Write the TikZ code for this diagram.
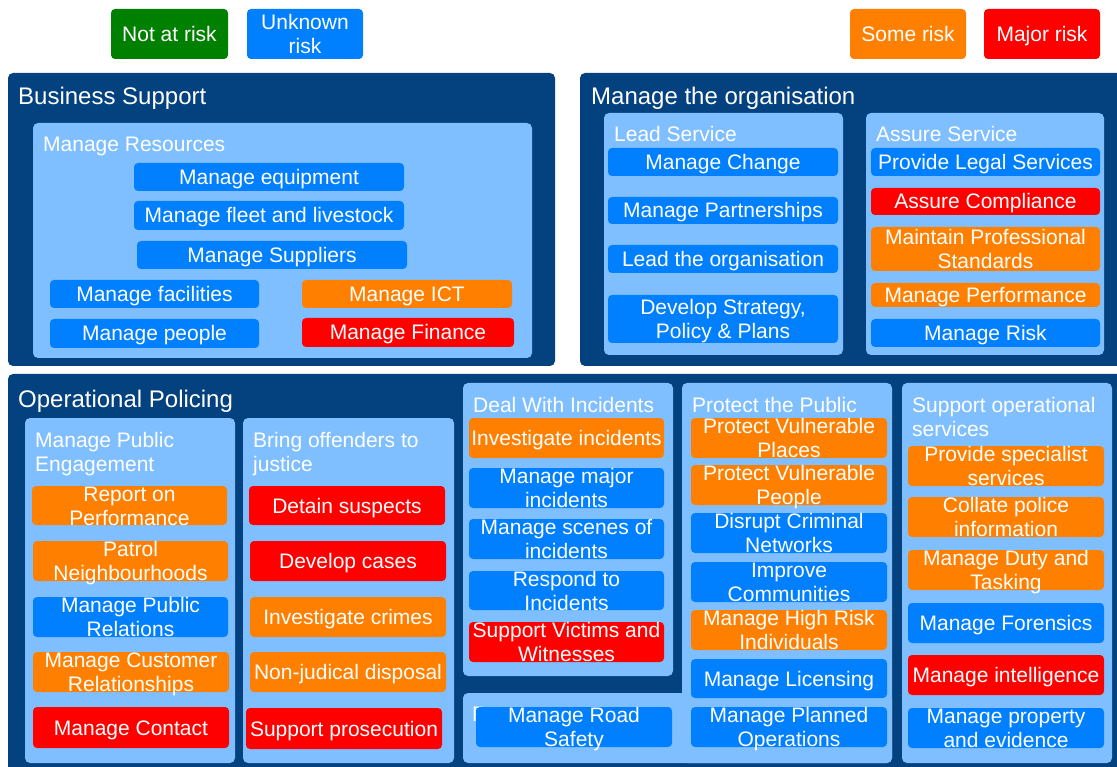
\documentclass[tikz,border=0pt]{standalone}
\usepackage{fontspec}
\setmainfont{Liberation Sans}

\definecolor{navy}{RGB}{3,65,127}
\definecolor{pale}{RGB}{128,191,255}
\definecolor{azure}{RGB}{0,128,255}
\definecolor{amber}{RGB}{255,128,0}
\definecolor{alert}{RGB}{255,0,0}
\definecolor{okgreen}{RGB}{0,128,0}

\tikzset{
  grouppanel/.style={fill=navy, rounded corners=5pt, inner sep=0pt, outer sep=0pt},
  areapanel/.style={fill=pale, rounded corners=5pt, inner sep=0pt, outer sep=0pt},
  taskshape/.style={rounded corners=4pt, inner sep=0pt, outer sep=0pt},
  tasktext/.style={text=white, font=\fontsize{21}{24}\selectfont, align=center, inner sep=0pt},
  grouptitle/.style={text=white, font=\fontsize{24}{28}\selectfont, anchor=base west, inner sep=0pt},
  areatitle/.style={text=white, font=\fontsize{21}{24}\selectfont, anchor=north west, align=left, inner sep=0pt},
}

% struts for the first and last line, so every label is centred on its capitals
\newcommand\topstrut{\rule{0pt}{19.6pt}}
\newcommand\botstrut{\rule[-4.6pt]{0pt}{4.6pt}}

% rectangle node from its corners: name, x1, y1, x2, y2, style
\newcommand\panelbox[6]{%
  \node[#6, minimum width={(#4)-(#2)}, minimum height={(#5)-(#3)}]
    (#1) at ({((#2)+(#4))/2},{((#3)+(#5))/2}) {};}
% coloured process box with its centred label: name, x1, y1, x2, y2, colour, text
\newcommand\taskbox[7]{%
  \panelbox{#1}{#2}{#3}{#4}{#5}{taskshape,fill=#6}%
  \node[tasktext] (#1-text) at (#1.center) {\topstrut#7\botstrut};}

\begin{document}
\begin{tikzpicture}[x=1pt,y=-1pt]
\useasboundingbox (0,0) rectangle (1117,767);

% legend
\taskbox{legend-none}{111}{9}{228}{59}{okgreen}{Not at risk}
\taskbox{legend-unknown}{247}{9}{363}{59}{azure}{Unknown\\risk}
\taskbox{legend-some}{850}{9}{966}{59}{amber}{Some risk}
\taskbox{legend-major}{984}{9}{1100}{59}{alert}{Major risk}

% top-level groups
\panelbox{business}{8}{73}{555}{366}{grouppanel}
\panelbox{organisation}{580}{73}{1125}{366}{grouppanel}
\panelbox{operational}{8}{374}{1125}{775}{grouppanel}

\node[grouptitle] (business-title) at (18,105) {Business Support};
\node[grouptitle] (organisation-title) at (591,105) {Manage the organisation};
\node[grouptitle] (operational-title) at (18,407) {Operational Policing};

% functional areas
\panelbox{resources}{33}{123}{532}{358}{areapanel}
\panelbox{lead}{604}{113}{843}{355}{areapanel}
\panelbox{assure}{866}{113}{1104}{355}{areapanel}
\panelbox{engagement}{25}{418}{235}{763}{areapanel}
\panelbox{justice}{243}{418}{454}{763}{areapanel}
\panelbox{incidents}{463}{383}{673}{676}{areapanel}
\panelbox{roads}{463}{693}{892}{763}{areapanel}
\panelbox{public}{682}{383}{892}{763}{areapanel}
\panelbox{support}{902}{383}{1112}{763}{areapanel}

\node[areatitle] (resources-title) at (43,137) {Manage Resources};
\node[areatitle] (lead-title) at (614,126) {Lead Service};
\node[areatitle] (assure-title) at (876,126) {Assure Service};
\node[areatitle] (engagement-title) at (35,432) {Manage Public\\Engagement};
\node[areatitle] (justice-title) at (253,432) {Bring offenders to\\justice};
\node[areatitle] (incidents-title) at (473,397) {Deal With Incidents};
\node[areatitle] (public-title) at (692,397) {Protect the Public};
\node[areatitle] (support-title) at (912,397) {Support operational\\services};
\node[areatitle] (roads-title) at (472,707) {R};

% Manage Resources
\taskbox{equipment}{134}{163}{404}{191}{azure}{Manage equipment}
\taskbox{fleet}{134}{201}{404}{230}{azure}{Manage fleet and livestock}
\taskbox{suppliers}{137}{241}{407}{269}{azure}{Manage Suppliers}
\taskbox{facilities}{50}{280}{259}{308}{azure}{Manage facilities}
\taskbox{people}{50}{319}{259}{348}{azure}{Manage people}
\taskbox{ict}{302}{280}{512}{308}{amber}{Manage ICT}
\taskbox{finance}{302}{318}{514}{347}{alert}{Manage Finance}

% Lead Service
\taskbox{change}{608}{148}{838}{176}{azure}{Manage Change}
\taskbox{partnerships}{608}{197}{838}{224}{azure}{Manage Partnerships}
\taskbox{leadorg}{608}{245}{838}{273}{azure}{Lead the organisation}
\taskbox{strategy}{608}{295}{838}{343}{azure}{Develop Strategy,\\Policy \& Plans}

% Assure Service
\taskbox{legal}{871}{148}{1100}{176}{azure}{Provide Legal Services}
\taskbox{compliance}{871}{188}{1100}{215}{alert}{Assure Compliance}
\taskbox{standards}{871}{227}{1100}{271}{amber}{Maintain Professional\\Standards}
\taskbox{performance}{871}{283}{1100}{307}{amber}{Manage Performance}
\taskbox{risk}{871}{319}{1100}{347}{azure}{Manage Risk}

% Manage Public Engagement
\taskbox{report}{32}{486}{227}{525}{amber}{Report on\\Performance}
\taskbox{patrol}{33}{541}{228}{581}{amber}{Patrol\\Neighbourhoods}
\taskbox{relations}{33}{597}{228}{637}{azure}{Manage Public\\Relations}
\taskbox{customer}{33}{652}{229}{692}{amber}{Manage Customer\\Relationships}
\taskbox{contact}{33}{707}{229}{748}{alert}{Manage Contact}

% Bring offenders to justice
\taskbox{detain}{249}{486}{445}{525}{alert}{Detain suspects}
\taskbox{cases}{250}{541}{446}{581}{alert}{Develop cases}
\taskbox{crimes}{250}{597}{446}{637}{amber}{Investigate crimes}
\taskbox{disposal}{250}{652}{446}{692}{amber}{Non-judical disposal}
\taskbox{prosecution}{246}{708}{442}{749}{alert}{Support prosecution}

% Deal With Incidents
\taskbox{investigate}{469}{418}{664}{458}{amber}{Investigate incidents}
\taskbox{major}{469}{468}{664}{508}{azure}{Manage major\\incidents}
\taskbox{scenes}{469}{519}{664}{559}{azure}{Manage scenes of\\incidents}
\taskbox{respond}{469}{571}{664}{610}{azure}{Respond to\\Incidents}
\taskbox{victims}{469}{622}{664}{662}{alert}{Support Victims and\\Witnesses}

% road safety strip
\taskbox{roadsafety}{476}{707}{672}{747}{azure}{Manage Road\\Safety}

% Protect the Public
\taskbox{places}{691}{418}{887}{458}{amber}{Protect Vulnerable\\Places}
\taskbox{vulnerable}{691}{465}{887}{505}{amber}{Protect Vulnerable\\People}
\taskbox{networks}{691}{513}{887}{553}{azure}{Disrupt Criminal\\Networks}
\taskbox{communities}{691}{562}{887}{602}{azure}{Improve\\Communities}
\taskbox{highrisk}{691}{610}{887}{650}{amber}{Manage High Risk\\Individuals}
\taskbox{licensing}{691}{659}{887}{698}{azure}{Manage Licensing}
\taskbox{planned}{691}{707}{887}{747}{azure}{Manage Planned\\Operations}

% Support operational services
\taskbox{specialist}{908}{446}{1104}{486}{amber}{Provide specialist\\services}
\taskbox{collate}{908}{497}{1104}{537}{amber}{Collate police\\information}
\taskbox{duty}{908}{550}{1104}{590}{amber}{Manage Duty and\\Tasking}
\taskbox{forensics}{908}{603}{1104}{643}{azure}{Manage Forensics}
\taskbox{intelligence}{908}{655}{1104}{695}{alert}{Manage intelligence}
\taskbox{property}{908}{708}{1104}{748}{azure}{Manage property\\and evidence}

\end{tikzpicture}
\end{document}
